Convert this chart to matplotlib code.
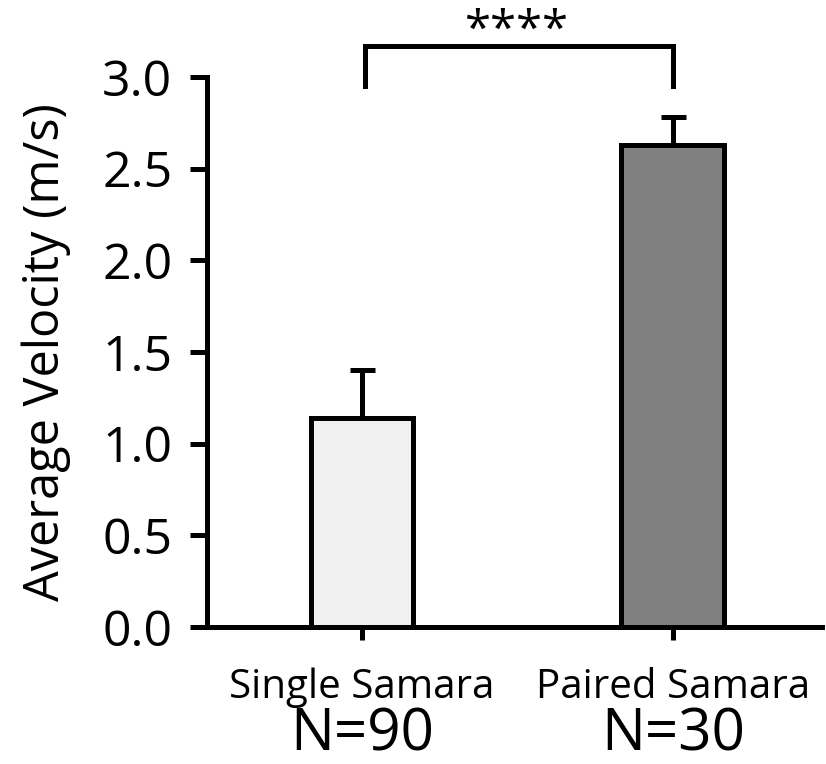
import matplotlib.pyplot as plt
import numpy as np

groups = ["Single Samara", "Paired Samara"]
n_labels = ["N=90", "N=30"]
velocity = [1.14, 2.63]
velocity_err = [0.26, 0.15]
bar_colors = ["#f0f0f0", "#808080"]
signif = "****"

plt.rcParams['font.family'] = ['Open Sans', 'DejaVu Sans']

fig = plt.figure(figsize=(8.26, 7.64), dpi=100)
ax = fig.add_axes([0.2506, 0.1793, 0.7446, 0.7199])

x = np.arange(len(groups))
lw = 3.6
ax.bar(x, velocity, width=0.33, color=bar_colors, edgecolor="black", linewidth=lw, zorder=3)
ax.errorbar(x, velocity, yerr=[np.zeros(len(velocity)), velocity_err], fmt="none",
            ecolor="black", elinewidth=lw, capsize=9, capthick=lw, zorder=2)

ax.set_xlim(-0.498, 1.48)
ax.set_ylim(0, 3.0)
ax.set_yticks(np.arange(0, 3.01, 0.5))
ax.set_yticklabels([f"{v:.1f}" for v in np.arange(0, 3.01, 0.5)])
ax.set_xticks(x)
ax.set_xticklabels(groups, fontsize=29)
ax.set_ylabel("Average Velocity (m/s)", fontsize=35, labelpad=22)

for s in ["top", "right"]:
    ax.spines[s].set_visible(False)
for s in ["left", "bottom"]:
    ax.spines[s].set_linewidth(lw)
ax.tick_params(axis="y", length=12, width=lw, labelsize=36, pad=13)
ax.tick_params(axis="x", length=9, width=lw, pad=20)

# sample sizes under the group names
for xi, lab in zip(x, n_labels):
    ax.text(xi, -0.59, lab, ha="center", va="center", fontsize=42, clip_on=False)

# significance bracket
by, bh = 2.95, 0.22
ax.plot([x[0] + 0.01, x[0] + 0.01, x[1], x[1]], [by, by + bh, by + bh, by], color="black",
        lw=lw, clip_on=False, solid_joinstyle="miter")
ax.text((x[0] + x[1]) / 2, 3.12, signif, ha="center", va="bottom", fontsize=34,
        clip_on=False)

fig.savefig("out.png", dpi=100)
